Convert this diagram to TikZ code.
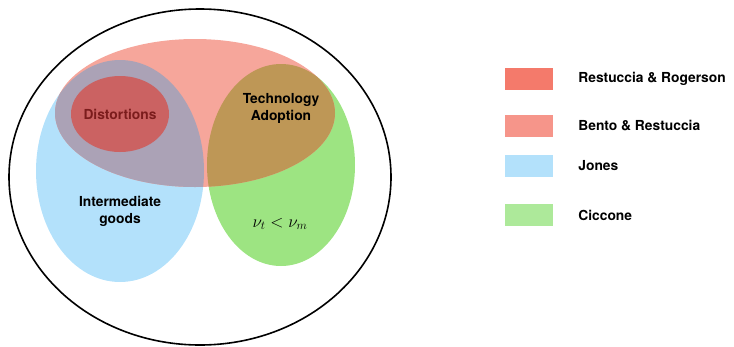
\documentclass[tikz,border=0pt]{standalone}
\usepackage{fontspec}
\setsansfont{TeX Gyre Heros}
\usepackage{tikz}
\usetikzlibrary{positioning}
\definecolor{RogRed}{HTML}{F47A6B}
\definecolor{BentoKey}{HTML}{F6958A}
\definecolor{BentoPink}{HTML}{F6A69B}
\definecolor{JonesBlue}{HTML}{B3E1FB}
\definecolor{CicGreen}{HTML}{9DE482}
\definecolor{CicKey}{HTML}{ADE99A}
\definecolor{PinkBlue}{HTML}{ABA2B6}
\definecolor{PinkGreen}{HTML}{BE9756}
\definecolor{DistRed}{HTML}{CB6262}
\definecolor{DistText}{HTML}{7B1C1C}

\begin{document}
\begin{tikzpicture}[x=1pt, y=-1pt, every node/.style={font=\sffamily\bfseries\fontsize{13.8}{17}\selectfont},
  swatch/.style={minimum width=48pt, minimum height=22pt, inner sep=0pt},
  keytext/.style={anchor=west, inner sep=0pt}]
  \useasboundingbox (0,0) rectangle (734,346);
  % the sets
  \fill[JonesBlue] (120,171) ellipse [x radius=84, y radius=111];
  \fill[CicGreen] (281,165) ellipse [x radius=74, y radius=101];
  \fill[BentoPink] (195,113) ellipse [x radius=140, y radius=74];
  \begin{scope}
    \clip (120,171) ellipse [x radius=84, y radius=111];
    \fill[PinkBlue] (195,113) ellipse [x radius=140, y radius=74];
  \end{scope}
  \begin{scope}
    \clip (281,165) ellipse [x radius=74, y radius=101];
    \fill[PinkGreen] (195,113) ellipse [x radius=140, y radius=74];
  \end{scope}
  \fill[DistRed] (120,114) ellipse [x radius=49, y radius=38];
  \draw[line width=1.6pt] (200,177) ellipse [x radius=191, y radius=168];

  \node[text=DistText] (dist) at (120,114) {Distortions};
  \node[align=center] (techadopt) at (281,108) {Technology\\Adoption};
  \node[align=center] (intgoods) at (120,211) {Intermediate\\goods};
  \node[font=\fontsize{17}{20}\selectfont] (nurel) at (280,224) {$\nu_t < \nu_m$};

  % legend
  \foreach \i/\y/\col/\lab in {1/79/RogRed/Restuccia \& Rogerson,2/126/BentoKey/Bento \& Restuccia,3/166/JonesBlue/Jones,4/215/CicKey/Ciccone}{
    \node[swatch,fill=\col] (sw\i) at (529,\y) {};
    \node[keytext,right=25pt of sw\i] (lab\i) {\lab};
  }
\end{tikzpicture}
\end{document}
